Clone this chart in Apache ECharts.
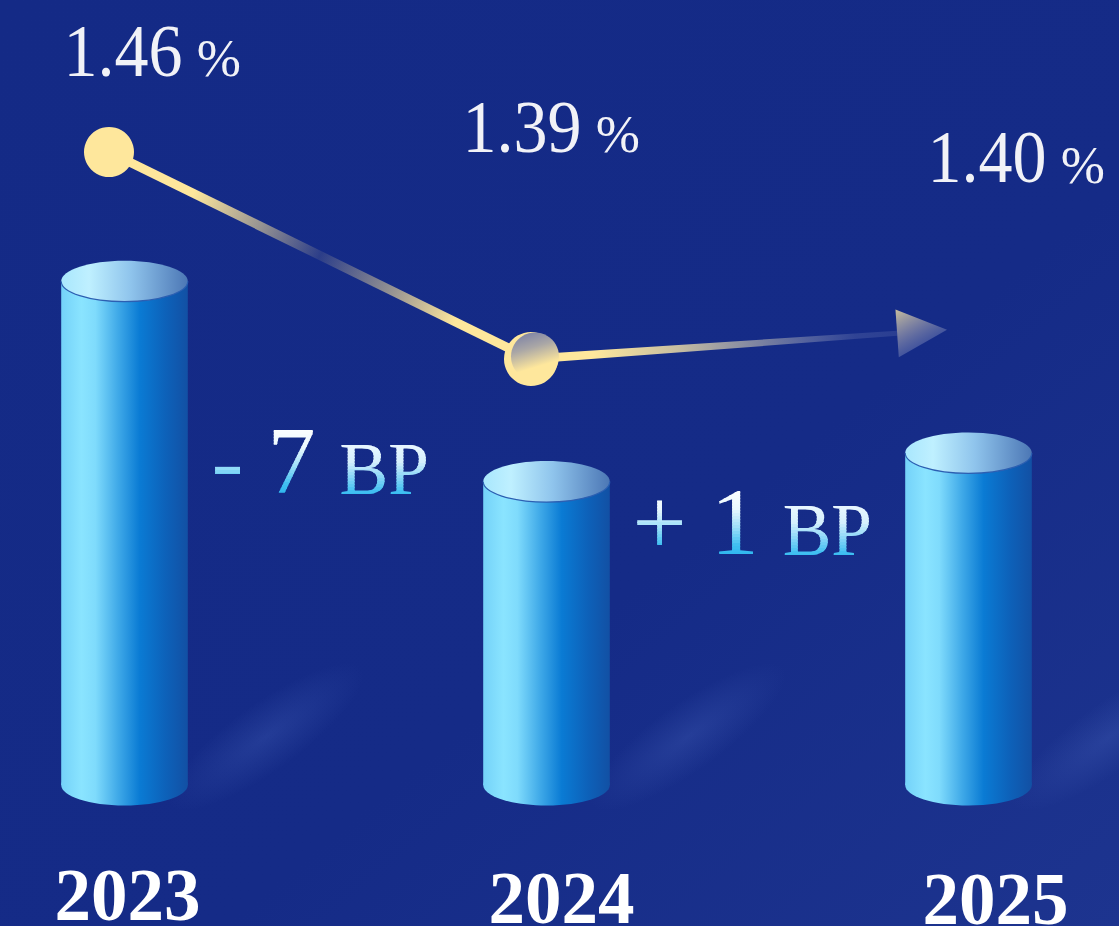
<!DOCTYPE html>
<html>
<head>
<meta charset="utf-8">
<title>2023 – 2025</title>
<script src="https://cdn.jsdelivr.net/npm/echarts@6.0.0/dist/echarts.min.js"></script>
<style>
  html, body { margin: 0; padding: 0; background: #152b87; overflow: hidden; }
  #chart { width: 1119px; height: 926px; }
</style>
</head>
<body>
<div id="chart"></div>
<script>
// ---- data ----
const years = ['2023', '2024', '2025'];
// rate per year, in percent
const rates = [1.46, 1.39, 1.40];
// year-on-year change, in basis points
const changesBp = rates.slice(1).map((v, i) => Math.round((v - rates[i]) * 100));

// ---- layout ----
const BAR_RANGE = [1.284, 1.524];          // value range of the cylinder axis
const CYL_WIDTH_RATIO = 0.3;               // cylinder width as share of category step
const CYL_RY = 20.5;                       // half height of the cap ellipses
const RATE_LABEL_POS = [[-45.5, -75], [-68.5, -206], [-25.5, -146]]; // text origin / baseline vs. point
const YEAR_LABEL_POS = [[3, 136], [15, 139], [27, 140]];             // centre / baseline vs. cylinder base
const CHANGE_LABEL_POS = [[-124, 290], [-125, 229]];                 // text origin / baseline vs. midpoint
const SERIF = '"Liberation Serif", "Times New Roman", serif';
const BASELINE_SHIFT = 0.355;

const G = echarts.graphic;
const measureCtx = document.createElement('canvas').getContext('2d');
function textWidth(str, font) { measureCtx.font = font; return measureCtx.measureText(str).width; }

function textEl(str, x, baseline, size, fill, opt) {
  opt = opt || {};
  const font = (opt.weight ? opt.weight + ' ' : '') + size + 'px ' + SERIF;
  const el = {
    type: 'text',
    x: x,
    y: baseline - BASELINE_SHIFT * size,
    silent: true,
    style: {
      text: str, x: 0, y: 0, font: font, fill: fill,
      textAlign: opt.align || 'left', textVerticalAlign: 'middle',
      align: opt.align || 'left', verticalAlign: 'middle'
    }
  };
  if (opt.scaleX) el.scaleX = opt.scaleX;
  return el;
}

// colour at position t (0..1) on a list of [offset, [r,g,b]] stops
function mixStops(stops, t) {
  if (t <= stops[0][0]) return stops[0][1];
  for (let k = 1; k < stops.length; k++) {
    if (t <= stops[k][0]) {
      const a = stops[k - 1], b = stops[k];
      const f = (t - a[0]) / (b[0] - a[0]);
      return a[1].map((c, j) => Math.round(c + (b[1][j] - c) * f));
    }
  }
  return stops[stops.length - 1][1];
}

// text filled with a vertical colour ramp, painted as thin clipped bands
function rampText(str, x, baseline, size, stops) {
  const font = size + 'px ' + SERIF;
  const top = Math.floor(baseline - 0.72 * size);
  const bottom = Math.ceil(baseline + 0.04 * size);
  const band = 3;
  const w = textWidth(str, font) + 20;
  const els = [];
  for (let y0 = top; y0 < bottom; y0 += band) {
    const t = (y0 + band / 2 - top) / (bottom - top);
    const rgb = mixStops(stops, t);
    const last = y0 + band >= bottom;
    els.push({
      type: 'text', silent: true,
      style: {
        text: str, x: x, y: baseline - BASELINE_SHIFT * size, font: font,
        fill: 'rgb(' + rgb.join(',') + ')',
        textAlign: 'left', textVerticalAlign: 'middle', align: 'left', verticalAlign: 'middle'
      },
      clipPath: {
        type: 'rect',
        shape: { x: x - 10, y: y0 - (y0 === top ? 10 : 0), width: w, height: band + 1 + (last ? 12 : 0) + (y0 === top ? 10 : 0) }
      }
    });
  }
  return els;
}

const YELLOW = '#fee79c';
function bodyGradient() {
  return new G.LinearGradient(0, 0, 1, 0, [
    { offset: 0, color: '#74d2f9' },
    { offset: 0.16, color: '#8ae4ff' },
    { offset: 0.27, color: '#7fdbfc' },
    { offset: 0.45, color: '#3fa9e8' },
    { offset: 0.62, color: '#0a7bd4' },
    { offset: 0.82, color: '#0d62ba' },
    { offset: 1, color: '#1250a4' }
  ]);
}
function capGradient() {
  return new G.LinearGradient(0, 0, 1, 0, [
    { offset: 0, color: '#a9e7fd' },
    { offset: 0.22, color: '#bff0ff' },
    { offset: 0.55, color: '#8fc4ec' },
    { offset: 1, color: '#4c77b5' }
  ]);
}

// cylinders with their year labels
function renderCylinder(params, api) {
  const i = params.dataIndex;
  const top = api.coord([i, api.value(1)]);
  const base = api.coord([i, BAR_RANGE[0]]);
  const w = api.size([1, 0])[0] * CYL_WIDTH_RATIO;
  const rx = w / 2, cx = top[0], left = cx - rx;
  return {
    type: 'group',
    children: [
      {
        type: 'ellipse', silent: true,
        x: left + w + 78, y: base[1] - 48, rotation: 0.62,
        shape: { cx: 0, cy: 0, rx: 118, ry: 34 },
        style: {
          fill: new G.RadialGradient(0.5, 0.5, 0.5, [
            { offset: 0, color: 'rgba(78,108,196,0.26)' },
            { offset: 0.5, color: 'rgba(78,108,196,0.13)' },
            { offset: 1, color: 'rgba(78,108,196,0)' }
          ])
        }
      },
      {
        type: 'rect',
        shape: { x: left, y: top[1], width: w, height: base[1] - top[1] },
        style: { fill: bodyGradient() }
      },
      {
        type: 'ellipse',
        shape: { cx: cx, cy: base[1], rx: rx, ry: CYL_RY },
        style: { fill: bodyGradient() }
      },
      {
        type: 'ellipse',
        shape: { cx: cx, cy: top[1], rx: rx, ry: CYL_RY },
        style: { fill: capGradient() }
      },
      {
        type: 'path', silent: true,
        shape: {
          pathData: 'M' + (cx - rx) + ' ' + top[1] + ' A' + rx + ' ' + CYL_RY + ' 0 0 0 ' + (cx + rx) + ' ' + top[1]
        },
        style: { fill: null, stroke: '#2c5fb2', lineWidth: 1.2 }
      },
      textEl(years[i], cx + YEAR_LABEL_POS[i][0], base[1] + YEAR_LABEL_POS[i][1], 73, '#ffffff',
        { weight: 'bold', align: 'center' })
    ]
  };
}

// change labels between neighbouring years
const NUM_RAMP = [
  [0, [255, 255, 255]], [0.3, [236, 249, 255]], [0.55, [160, 224, 249]],
  [0.8, [62, 190, 241]], [1, [40, 180, 238]]
];
const UNIT_RAMP = [
  [0, [236, 248, 255]], [0.35, [214, 240, 253]], [0.65, [130, 212, 247]],
  [0.9, [60, 190, 242]], [1, [52, 186, 240]]
];
function renderChange(params, api) {
  const i = params.dataIndex;
  const d = changesBp[i];
  const a = api.coord([i, BAR_RANGE[0]]);
  const b = api.coord([i + 1, BAR_RANGE[0]]);
  const mid = (a[0] + b[0]) / 2;
  const x0 = mid + CHANGE_LABEL_POS[i][0];
  const baseline = a[1] - CHANGE_LABEL_POS[i][1];
  const numStr = (d < 0 ? '-' : '+') + ' ' + Math.abs(d);
  const numFont = '96px ' + SERIF;
  const xUnit = x0 + textWidth(numStr, numFont) + 0.25 * 96;
  return {
    type: 'group',
    children: rampText(numStr, x0, baseline, 96, NUM_RAMP)
      .concat(rampText('BP', xUnit, baseline, 73, UNIT_RAMP))
  };
}

// trend line with dots, arrow and rate labels
function renderTrend(params, api) {
  const i = params.dataIndex;
  const last = rates.length - 1;
  const p = api.coord([i, rates[i]]);
  const children = [];

  if (i < last) {
    const q = api.coord([i + 1, rates[i + 1]]);
    if (i + 1 < last) {
      children.push({
        type: 'line', silent: true,
        shape: { x1: p[0], y1: p[1], x2: q[0], y2: q[1] },
        style: {
          lineWidth: 9,
          stroke: new G.LinearGradient(p[0], p[1], q[0], q[1], [
            { offset: 0, color: YELLOW },
            { offset: 0.2, color: YELLOW },
            { offset: 0.36, color: 'rgba(254,231,156,0.55)' },
            { offset: 0.5, color: 'rgba(254,231,156,0.1)' },
            { offset: 0.67, color: 'rgba(254,231,156,0.55)' },
            { offset: 0.82, color: YELLOW },
            { offset: 1, color: YELLOW }
          ], true)
        }
      });
    } else {
      const dx = q[0] - p[0], dy = q[1] - p[1];
      const len = Math.hypot(dx, dy);
      const ux = dx / len, uy = dy / len, nx = -uy, ny = ux;
      const tip = [q[0] - ux * 6, q[1] - uy * 6];
      const bc = [tip[0] - ux * 50, tip[1] - uy * 50];
      children.push({
        type: 'polygon', silent: true,
        shape: { points: [
          [p[0] + nx * 4.5, p[1] + ny * 4.5],
          [bc[0] + nx * 2.5, bc[1] + ny * 2.5],
          [bc[0] - nx * 2.5, bc[1] - ny * 2.5],
          [p[0] - nx * 4.5, p[1] - ny * 4.5]
        ] },
        style: {
          fill: new G.LinearGradient(p[0], p[1], tip[0], tip[1], [
            { offset: 0, color: YELLOW },
            { offset: 0.15, color: YELLOW },
            { offset: 0.35, color: 'rgba(245,228,168,0.8)' },
            { offset: 0.58, color: 'rgba(225,218,190,0.45)' },
            { offset: 0.78, color: 'rgba(200,205,225,0.15)' },
            { offset: 1, color: 'rgba(200,205,225,0.08)' }
          ], true)
        }
      });
      children.push({
        type: 'polygon', silent: true,
        shape: { points: [
          tip,
          [bc[0] + nx * 24, bc[1] + ny * 24],
          [bc[0] - nx * 24, bc[1] - ny * 24]
        ] },
        style: {
          fill: new G.LinearGradient(0, 0, 0.6, 1, [
            { offset: 0, color: 'rgba(222,208,160,0.9)' },
            { offset: 0.45, color: 'rgba(175,172,178,0.6)' },
            { offset: 1, color: 'rgba(110,130,200,0.25)' }
          ])
        }
      });
    }
    children.push({
      type: 'circle', silent: true,
      shape: { cx: p[0], cy: p[1], r: i > 0 ? 27 : 25 },
      style: { fill: YELLOW }
    });
    if (i > 0) {
      children.push({
        type: 'circle', silent: true,
        shape: { cx: p[0] + 4, cy: p[1] - 2.5, r: 24 },
        style: {
          fill: new G.LinearGradient(0.2, 0, 0.5, 1, [
            { offset: 0, color: '#7a80a6' },
            { offset: 0.35, color: '#aaa7a6' },
            { offset: 0.75, color: YELLOW },
            { offset: 1, color: YELLOW }
          ])
        }
      });
    }
  }

  // rate label
  const numStr = rates[i].toFixed(2);
  const numSize = 74, numScale = 0.92;
  const ox = p[0] + RATE_LABEL_POS[i][0];
  const baseline = p[1] + RATE_LABEL_POS[i][1];
  const numW = textWidth(numStr, numSize + 'px ' + SERIF) * numScale;
  children.push(textEl(numStr, ox, baseline, numSize, '#f1f2f7', { scaleX: numScale }));
  children.push(textEl('%', ox + numW + 14, baseline, 53, '#f1f2f7'));

  return { type: 'group', children: children };
}

const chart = echarts.init(document.getElementById('chart'), null, { renderer: 'svg' });
chart.setOption({
  animation: false,
  backgroundColor: new G.LinearGradient(0, 0, 1, 1, [
    { offset: 0, color: '#142a86' },
    { offset: 0.6, color: '#152b87' },
    { offset: 1, color: '#1d348f' }
  ]),
  grid: [
    { left: 124.5, right: 150.5, top: 98, bottom: 141 },
    { left: 109, right: 166, top: 152, bottom: 567 }
  ],
  xAxis: [
    { gridIndex: 0, type: 'category', data: years, boundaryGap: false, show: false },
    { gridIndex: 1, type: 'category', data: years, boundaryGap: false, show: false }
  ],
  yAxis: [
    { gridIndex: 0, type: 'value', min: BAR_RANGE[0], max: BAR_RANGE[1], show: false },
    { gridIndex: 1, type: 'value', min: Math.min.apply(null, rates), max: Math.max.apply(null, rates), show: false }
  ],
  series: [
    {
      type: 'custom', name: 'cylinders', xAxisIndex: 0, yAxisIndex: 0,
      renderItem: renderCylinder, encode: { x: 0, y: 1 },
      data: rates.map((v, i) => [i, v])
    },
    {
      type: 'custom', name: 'change', xAxisIndex: 0, yAxisIndex: 0,
      renderItem: renderChange, encode: { x: 0 },
      data: changesBp.map((d, i) => [i, BAR_RANGE[0]])
    },
    {
      type: 'custom', name: 'trend', xAxisIndex: 1, yAxisIndex: 1,
      renderItem: renderTrend, encode: { x: 0, y: 1 },
      data: rates.map((v, i) => [i, v])
    }
  ]
});
</script>
</body>
</html>
